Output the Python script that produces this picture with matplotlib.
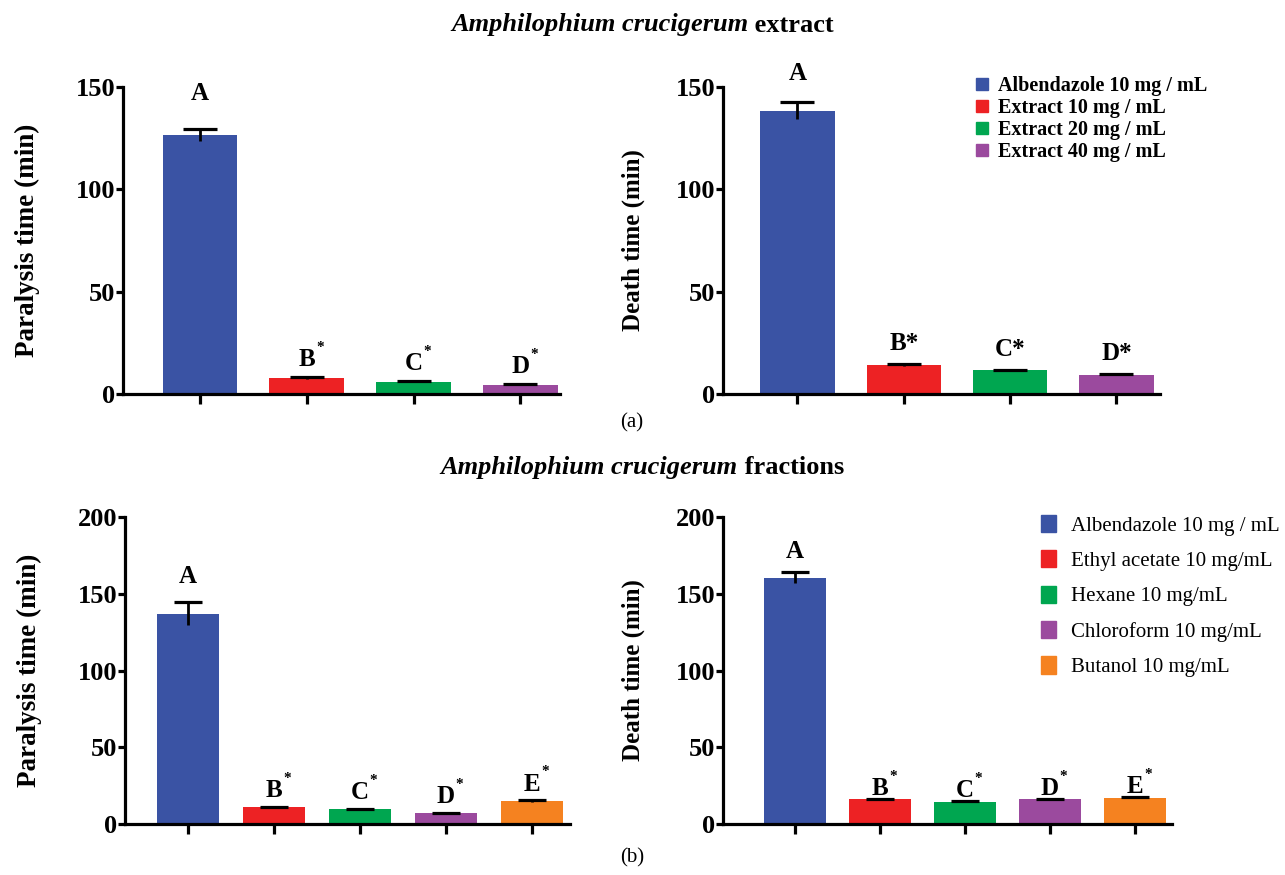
import matplotlib
matplotlib.use("Agg")
import matplotlib.pyplot as plt
from matplotlib.patches import Patch

plt.rcParams['font.family'] = ['Liberation Serif', 'DejaVu Serif']

# data
ext_groups = ['Albendazole 10 mg / mL', 'Extract 10 mg / mL',
              'Extract 20 mg / mL', 'Extract 40 mg / mL']
ext_paralysis = [126.5, 7.8, 6.0, 4.5]
ext_paralysis_err = [3.0, 0.3, 0.3, 0.3]
ext_death = [138.5, 14.2, 11.5, 9.5]
ext_death_err = [4.0, 0.3, 0.3, 0.3]

frac_groups = ['Albendazole 10 mg / mL', 'Ethyl acetate 10 mg/mL',
               'Hexane 10 mg/mL', 'Chloroform 10 mg/mL', 'Butanol 10 mg/mL']
frac_paralysis = [137.0, 11.0, 9.5, 7.0, 15.0]
frac_paralysis_err = [7.5, 0.3, 0.3, 0.3, 0.4]
frac_death = [160.5, 16.0, 14.5, 16.0, 17.0]
frac_death_err = [3.5, 0.3, 0.3, 0.3, 0.3]

letters = ['A', 'B', 'C', 'D', 'E']
colors = ['#3A53A4', '#ED2224', '#00A650', '#9B4A9E', '#F58220']

W, H = 1285, 875


def add_ax(fig, x0, x1, ybot, ytop):
    return fig.add_axes([x0 / W, 1 - ybot / H, (x1 - x0) / W, (ybot - ytop) / H])


def draw_panel(ax, vals, errs, ylabel, ymax, xlim, width, capsize,
               gap_first, gap_rest, sup_star=True, ylsize=18, labelpad=30):
    x = list(range(len(vals)))
    ax.bar(x, vals, width=width, color=colors[:len(vals)], zorder=2)
    # cap only on the upper end, stem runs into the bar
    eb = ax.errorbar(x, vals, yerr=[errs, errs], fmt='none', ecolor='black',
                     elinewidth=2, capsize=capsize, capthick=2.3, zorder=3)
    eb[1][0].set_visible(False)
    for i, (v, e) in enumerate(zip(vals, errs)):
        gap = gap_first if i == 0 else gap_rest
        txt = letters[i]
        if i > 0 and not sup_star:
            txt += '*'
        ax.annotate(txt, xy=(i, v + e), xytext=(0, gap), textcoords='offset points',
                    ha='center', va='baseline', fontsize=18, fontweight='bold',
                    annotation_clip=False)
        if i > 0 and sup_star:
            ax.annotate('*', xy=(i, v + e), xytext=(7, gap + 11), textcoords='offset points',
                        ha='left', va='baseline', fontsize=11, fontweight='bold',
                        annotation_clip=False)
    ax.set_ylim(0, ymax)
    ax.set_xlim(*xlim)
    ax.set_yticks(range(0, ymax + 1, 50))
    ax.set_xticks(x)
    ax.set_xticklabels([])
    ax.set_ylabel(ylabel, fontsize=ylsize, fontweight='bold', labelpad=labelpad)
    for s in ['top', 'right']:
        ax.spines[s].set_visible(False)
    for s in ['left', 'bottom']:
        ax.spines[s].set_linewidth(2.3)
    ax.tick_params(axis='y', length=5, width=2.3, labelsize=19, pad=0.5)
    ax.tick_params(axis='x', length=7, width=2.3)
    for t in ax.get_yticklabels():
        t.set_fontweight('bold')


def mixed_title(fig, y, italic_part, plain_part, size=19):
    r = fig.canvas.get_renderer()
    t1 = fig.text(0, y, italic_part, fontsize=size, fontweight='bold', style='italic',
                  va='center')
    t2 = fig.text(0, y, ' ' + plain_part, fontsize=size, fontweight='bold', va='center')
    w1 = t1.get_window_extent(r).width / W
    w2 = t2.get_window_extent(r).width / W
    x0 = 0.5 - (w1 + w2) / 2
    t1.set_x(x0)
    t2.set_x(x0 + w1)


fig = plt.figure(figsize=(12.85, 8.75), dpi=100)

ax1 = add_ax(fig, 123, 560, 394, 87)
draw_panel(ax1, ext_paralysis, ext_paralysis_err, 'Paralysis time (min)', 150,
           (-0.72, 3.37), 0.70, 12, 21, 8, ylsize=19.5, labelpad=26)
ax2 = add_ax(fig, 723, 1160, 394, 87)
draw_panel(ax2, ext_death, ext_death_err, 'Death time (min)', 150,
           (-0.70, 3.41), 0.70, 12, 16, 10, sup_star=False, labelpad=22)
ax3 = add_ax(fig, 125, 570, 824, 517)
draw_panel(ax3, frac_paralysis, frac_paralysis_err, 'Paralysis time (min)', 200,
           (-0.73, 4.44), 0.72, 10, 14, 7, ylsize=19.5, labelpad=26)
ax4 = add_ax(fig, 723, 1172, 824, 517)
draw_panel(ax4, frac_death, frac_death_err, 'Death time (min)', 200,
           (-0.85, 4.44), 0.73, 10, 10, 3, labelpad=22)

h1 = [Patch(color=c) for c in colors[:4]]
fig.legend(h1, ext_groups, loc='upper left', bbox_to_anchor=(958 / W, 1 - 58 / H),
           frameon=False, handlelength=0.6, handleheight=0.6, handletextpad=0.5,
           labelspacing=0.1, prop={'size': 14.5, 'weight': 'bold'})

h2 = [Patch(color=c) for c in colors]
fig.legend(h2, frac_groups, loc='upper left', bbox_to_anchor=(1022 / W, 1 - 496 / H),
           frameon=False, handlelength=0.75, handleheight=0.9, handletextpad=0.7,
           labelspacing=0.7, prop={'size': 15})

mixed_title(fig, 1 - 25 / H, 'Amphilophium crucigerum', 'extract')
mixed_title(fig, 1 - 468 / H, 'Amphilophium crucigerum', 'fractions')
fig.text(632 / W, 1 - 423 / H, '(a)', fontsize=15, ha='center', va='center')
fig.text(632 / W, 1 - 858 / H, '(b)', fontsize=15, ha='center', va='center')

fig.savefig('out.png', dpi=100)
